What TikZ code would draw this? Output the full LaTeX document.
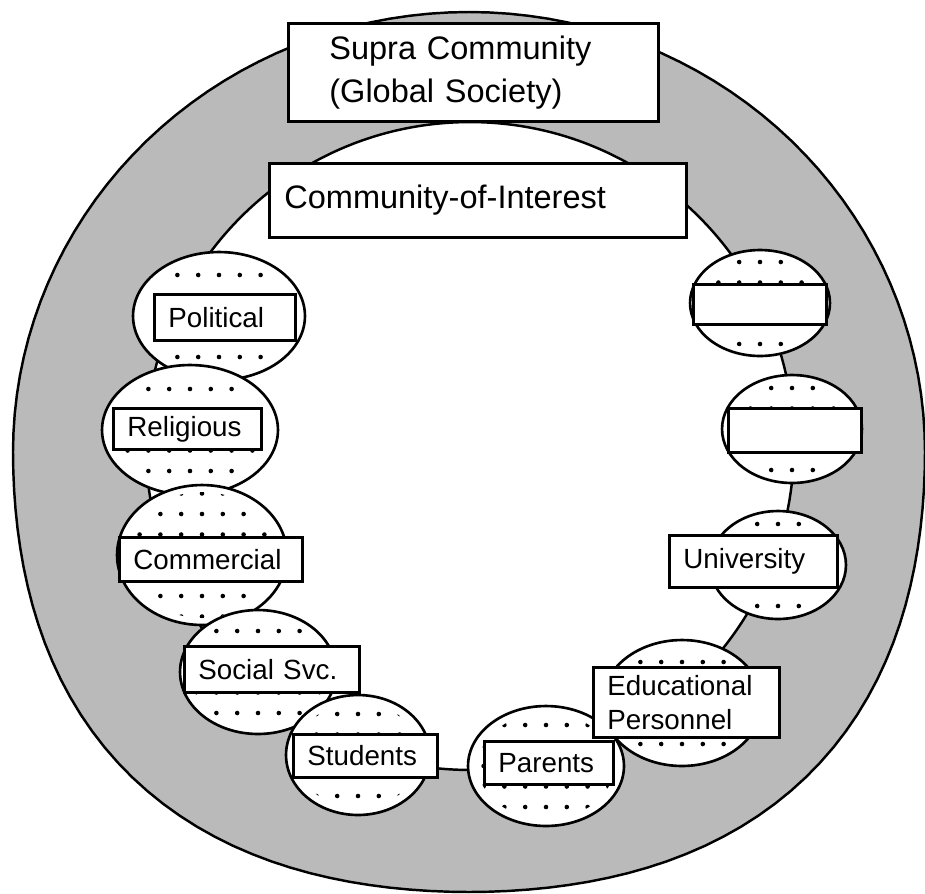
\documentclass[tikz,border=0pt]{standalone}
\usepackage{fontspec}
\setmainfont{Liberation Sans}
\usetikzlibrary{shapes.geometric}

\begin{document}
\begin{tikzpicture}[
        x=0.02cm, y=-0.02cm,
        ring_line/.style={line width=1.4pt},
        blob/.style={draw, fill=white, ellipse, inner sep=0pt, line width=1.5pt},
        ring_lbl/.style={draw, fill=white, rectangle, anchor=north west, align=left, line width=1.6pt,
            inner xsep=0.28cm, inner ysep=0pt, font=\fontsize{15.8}{19.3}\selectfont},
        top_lbl/.style={ring_lbl, font=\fontsize{18.5}{24.4}\selectfont}
    ]
    \useasboundingbox (0,0) rectangle (925,893);

    % supra community ring (a little fuller at the bottom)
    \filldraw[fill=black!27, ring_line] plot[domain=0:360, samples=145, variable=\t]
        ({469+456*cos(\t)*(1+0.045*(sin(2*\t))^2*(sin(\t)>0))},
         {452+440*sin(\t)*(1+0.045*(sin(2*\t))^2*(sin(\t)>0))}) -- cycle;
    % community-of-interest ring
    \filldraw[fill=white, ring_line] (470,446) circle [radius=6.48cm];

    % member groups
    \foreach \n/\x/\y/\rx/\ry in {pol/219/316/86/64, rel/190/430/88/65, com/202/555/85/70,
            soc/258/672/78/62, stu/358/755/72/60, bl1/760/303/70/53, bl2/792/429/70/54,
            uni/778/565/68/54, edu/682/703/80/63, par/546/766/78/60} {
        \node[blob, minimum width={\rx*0.04cm}, minimum height={\ry*0.04cm}] (\n) at (\x,\y) {};
        \begin{scope}
            \clip (\x,\y) ellipse [x radius={(\rx-10)*0.02cm}, y radius={(\ry-7)*0.02cm}];
            \foreach \i in {-4,...,4}
                \foreach \j in {-3,...,3}
                    \fill ({\x+\i*20.8}, {\y+\j*20.5}) circle [radius=1.3pt];
        \end{scope}
    }

    \node[top_lbl, text width=5.76cm, minimum height=1.96cm, inner xsep=0.82cm] (supra) at (287,22)
        {Supra Community\\(Global Society)};
    \node[top_lbl, text width=7.74cm, minimum height=1.48cm, inner xsep=0.30cm] (coi) at (268,162)
        {Community-of-Interest};

    \node[ring_lbl, text width=2.26cm, minimum height=0.92cm] (pol_lbl) at (153,293) {Political};
    \node[ring_lbl, text width=2.40cm, minimum height=0.82cm] (rel_lbl) at (112,407) {Religious};
    \node[ring_lbl, text width=3.10cm, minimum height=0.88cm] (com_lbl) at (118,536) {Commercial};
    \node[ring_lbl, text width=2.94cm, minimum height=0.92cm] (soc_lbl) at (183,645) {Social Svc.};
    \node[ring_lbl, text width=2.32cm, minimum height=0.86cm] (stu_lbl) at (292,733) {Students};
    \node[ring_lbl, text width=2.02cm, minimum height=0.86cm] (par_lbl) at (483,740) {Parents};
    \node[ring_lbl, text width=3.16cm, minimum height=1.40cm] (edu_lbl) at (592,666) {Educational\\Personnel};
    \node[ring_lbl, text width=2.80cm, minimum height=1.04cm] (uni_lbl) at (668,534) {University};
    \node[ring_lbl, text width=2.10cm, minimum height=0.88cm] (bl2_lbl) at (727,407) {};
    \node[ring_lbl, text width=2.10cm, minimum height=0.80cm] (bl1_lbl) at (692,283) {};
\end{tikzpicture}
\end{document}
